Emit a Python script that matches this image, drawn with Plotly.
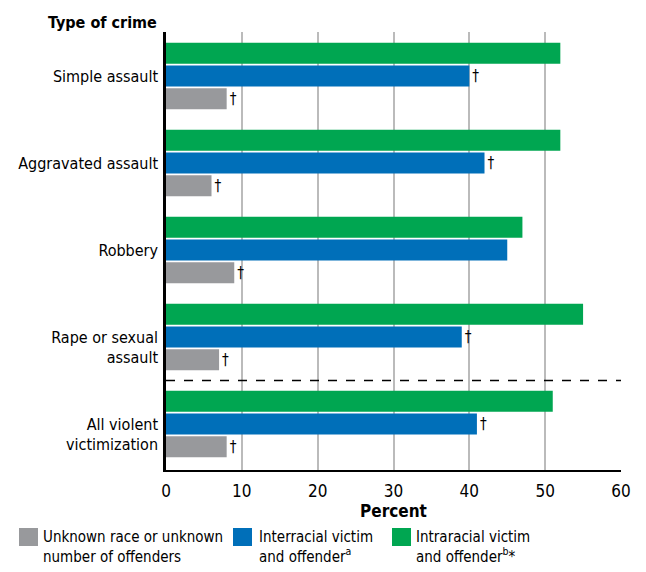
import plotly.graph_objects as go

categories = ["Simple assault", "Aggravated assault", "Robbery",
              "\u00a0<br>Rape or sexual<br>assault",
              "\u00a0<br>All violent<br>victimization"]
intraracial = [52, 52, 47, 55, 51]
interracial = [40, 42, 45, 39, 41]
unknown = [8, 6, 9, 7, 8]
intraracial_marks = [None, None, None, None, None]
interracial_marks = ["†", "†", None, "†", "†"]
unknown_marks = ["†", "†", "†", "†", "†"]
x_ticks = [0, 10, 20, 30, 40, 50, 60]
legend_labels = ["Unknown race or unknown<br>number of offenders",
                 "Interracial victim<br>and offender<sup>a</sup>",
                 "Intraracial victim<br>and offender<sup>b</sup>*"]

FONT = "DejaVu Sans Condensed, DejaVu Sans, sans-serif"
GREEN = "#00A651"
BLUE = "#006FB9"
GRAY = "#98999C"

# page body has an 8px margin, so the figure is drawn 8px in from the window corner
W, H = 638, 564
ML, MR, MT, MB = 158, 25, 24, 102
PW, PH = W - ML - MR, H - MT - MB
OFF = 8


def px(x):
    return (x - OFF - ML) / PW


def py(y):
    return (H - MB - (y - OFF)) / PH


fig = go.Figure()
series = [
    (legend_labels[2], intraracial, intraracial_marks, GREEN),
    (legend_labels[1], interracial, interracial_marks, BLUE),
    (legend_labels[0], unknown, unknown_marks, GRAY),
]
for name, vals, marks, col in series:
    has_marks = any(m for m in marks)
    fig.add_trace(go.Bar(
        y=categories, x=vals, orientation="h", name=name,
        marker=dict(color=col, line=dict(width=0)),
        text=marks if has_marks else None,
        textposition="outside" if has_marks else "none",
        cliponaxis=False,
        outsidetextfont=dict(family=FONT, size=15, color="#000000"),
        hoverinfo="x+y", showlegend=False,
    ))

fig.add_shape(type="line", xref="x", yref="y", x0=0, x1=60, y0=3.5, y1=3.5,
              line=dict(color="#000000", width=1.3, dash="dash"))

fig.add_annotation(text="<b>Type of crime</b>", xref="paper", yref="paper",
                   x=px(159), y=py(22), xanchor="right", yanchor="middle",
                   showarrow=False,
                   font=dict(family=FONT, size=16, color="#000000"))

# legend drawn as swatches + labels
legend_colors = [GRAY, BLUE, GREEN]
swatch_x = [19, 233, 392]
text_x = [41, 257, 414]
for lab, col, sx, tx in zip(legend_labels, legend_colors, swatch_x, text_x):
    fig.add_shape(type="rect", xref="paper", yref="paper",
                  x0=px(sx), x1=px(sx + 19), y0=py(546), y1=py(528),
                  fillcolor=col, line=dict(width=0))
    fig.add_annotation(text=lab, xref="paper", yref="paper",
                       x=px(tx), y=py(526), xanchor="left", yanchor="top",
                       align="left", showarrow=False,
                       font=dict(family=FONT, size=15, color="#000000"))

fig.update_layout(
    width=W, height=H,
    margin=dict(l=ML, r=MR, t=MT, b=MB, autoexpand=False),
    paper_bgcolor="white", plot_bgcolor="white",
    barmode="group", bargap=0.218, bargroupgap=0.075,
    font=dict(family=FONT, size=16, color="#000000"),
    xaxis=dict(range=[0, 60], tickvals=x_ticks, showgrid=True,
               gridcolor="#BBBBBB", gridwidth=1.5, zeroline=False,
               showline=True, linecolor="#000000", linewidth=2,
               ticks="", ticklabelstandoff=5,
               tickfont=dict(family=FONT, size=17),
               title=dict(text="<b>Percent</b>", standoff=2,
                          font=dict(family=FONT, size=17))),
    yaxis=dict(categoryorder="array", categoryarray=categories,
               range=[4.529, -0.506], showgrid=False, zeroline=False,
               showline=True, linecolor="#000000", linewidth=2.5,
               ticks="", ticklabelstandoff=2,
               tickfont=dict(family=FONT, size=16)),
    showlegend=False,
)

fig.write_html("out.html")
